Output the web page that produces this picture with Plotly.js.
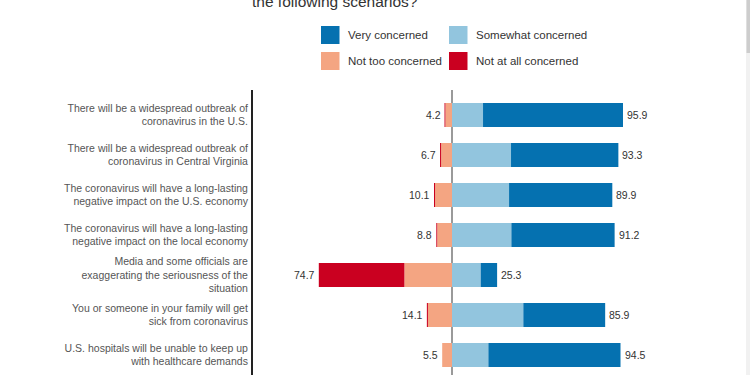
<!DOCTYPE html>
<html>
<head>
<meta charset="utf-8">
<script src="https://cdn.plot.ly/plotly-3.0.1.min.js"></script>
<style>html,body{margin:0;padding:0;background:#fff;}#chart{width:750px;height:375px;}</style>
</head>
<body>
<div id="chart"></div>
<script>
// ---- data ----
const categories = [
  "There will be a widespread outbreak of<br>coronavirus in the U.S.",
  "There will be a widespread outbreak of<br>coronavirus in Central Virginia",
  "The coronavirus will have a long-lasting<br>negative impact on the U.S. economy",
  "The coronavirus will have a long-lasting<br>negative impact on the local economy",
  "Media and some officials are<br>exaggerating the seriousness of the<br>situation",
  "You or someone in your family will get<br>sick from coronavirus",
  "U.S. hospitals will be unable to keep up<br>with healthcare demands"
];
const veryConcerned     = [78.5, 60.2, 57.9, 57.9, 9.2, 45.9, 74.1];
const somewhatConcerned = [17.4, 33.1, 32.0, 33.3, 16.1, 40.0, 20.4];
const notTooConcerned   = [3.7, 6.1, 9.5, 8.3, 26.7, 13.5, 5.5];
const notAtAllConcerned = [0.5, 0.6, 0.6, 0.5, 48.0, 0.6, 0.0];
const concernedTotal    = [95.9, 93.3, 89.9, 91.2, 25.3, 85.9, 94.5];
const notConcernedTotal = [4.2, 6.7, 10.1, 8.8, 74.7, 14.1, 5.5];
const seriesNames = ["Very concerned", "Somewhat concerned", "Not too concerned", "Not at all concerned"];
const titleText = "the following scenarios?";

// ---- styling ----
const colors = {
  very: "#0571b0", somewhat: "#92c5de", notToo: "#f4a582", notAtAll: "#ca0020"
};
const FONT = "Liberation Sans, Arial, sans-serif";
const W = 750, H = 375;
const M = {l: 253, r: 99, t: 90, b: 0};
const pw = W - M.l - M.r, ph = H - M.t - M.b;
const px = x => (x - M.l) / pw;           // pixel -> paper x
const py = y => (H - M.b - y) / ph;       // pixel -> paper y

const common = {type: "bar", orientation: "h", y: categories, width: 0.6,
  hoverinfo: "skip", showlegend: false, marker: {line: {width: 0}}};
const traces = [
  Object.assign({}, common, {name: seriesNames[1], x: somewhatConcerned, marker: {color: colors.somewhat, line: {width: 0}}}),
  Object.assign({}, common, {name: seriesNames[0], x: veryConcerned, marker: {color: colors.very, line: {width: 0}}}),
  Object.assign({}, common, {name: seriesNames[2], x: notTooConcerned.map(v => -v), marker: {color: colors.notToo, line: {width: 0}}}),
  Object.assign({}, common, {name: seriesNames[3], x: notAtAllConcerned.map(v => -v), marker: {color: colors.notAtAll, line: {width: 0}}})
];

const annotations = [];
categories.forEach((c, i) => {
  annotations.push({x: concernedTotal[i], y: c, xref: "x", yref: "y", text: concernedTotal[i].toFixed(1),
    xanchor: "left", yanchor: "middle", xshift: 2, showarrow: false,
    font: {family: FONT, size: 10.5, color: "#333"}});
  annotations.push({x: -notConcernedTotal[i], y: c, xref: "x", yref: "y", text: notConcernedTotal[i].toFixed(1),
    xanchor: "right", yanchor: "middle", xshift: -2, showarrow: false,
    font: {family: FONT, size: 10.5, color: "#333"}});
});

// custom legend (2 x 2)
const shapes = [];
const legendItems = [
  {name: seriesNames[0], color: colors.very, x: 321, y: 26},
  {name: seriesNames[1], color: colors.somewhat, x: 449, y: 26},
  {name: seriesNames[2], color: colors.notToo, x: 321, y: 52},
  {name: seriesNames[3], color: colors.notAtAll, x: 449, y: 52}
];
legendItems.forEach(it => {
  shapes.push({type: "rect", xref: "paper", yref: "paper",
    x0: px(it.x), x1: px(it.x + 18.5), y0: py(it.y), y1: py(it.y + 18),
    fillcolor: it.color, line: {width: 0}, layer: "above"});
  annotations.push({xref: "paper", yref: "paper", x: px(it.x + 25), y: py(it.y + 9),
    xanchor: "left", yanchor: "middle", showarrow: false, text: it.name,
    font: {family: FONT, size: 11.5, color: "#333"}});
});

// title (partly scrolled out of view, as in the reference)
annotations.push({xref: "paper", yref: "paper", x: px(335), y: py(2), xanchor: "center", yanchor: "middle",
  showarrow: false, text: titleText, font: {family: FONT, size: 15.5, color: "#333"}});

// page scrollbar
shapes.push({type: "rect", xref: "paper", yref: "paper", x0: px(746), x1: px(750), y0: py(375), y1: py(0),
  fillcolor: "#f1f1f1", line: {width: 0}, layer: "above"});
shapes.push({type: "rect", xref: "paper", yref: "paper", x0: px(746.5), x1: px(750), y0: py(53), y1: py(0),
  fillcolor: "#cdcdcd", line: {width: 0}, layer: "above"});

const layout = {
  width: W, height: H,
  margin: M,
  paper_bgcolor: "#fff", plot_bgcolor: "#fff",
  barmode: "relative",
  bargap: 0.4,
  xaxis: {range: [-111.6, 111.6], showgrid: false, showticklabels: false, ticks: "",
    zeroline: true, zerolinecolor: "#9a9a9a", zerolinewidth: 1.2, showline: false, fixedrange: true},
  yaxis: {type: "category", range: [6.5, -0.625], autorange: false, showgrid: false, zeroline: false,
    showline: true, linecolor: "#222", linewidth: 2, ticks: "", ticklabelstandoff: 1,
    tickfont: {family: FONT, size: 10.5, color: "#555"}, fixedrange: true},
  annotations: annotations,
  shapes: shapes,
  font: {family: FONT}
};

Plotly.newPlot("chart", traces, layout, {displayModeBar: false, staticPlot: true});
</script>
</body>
</html>
